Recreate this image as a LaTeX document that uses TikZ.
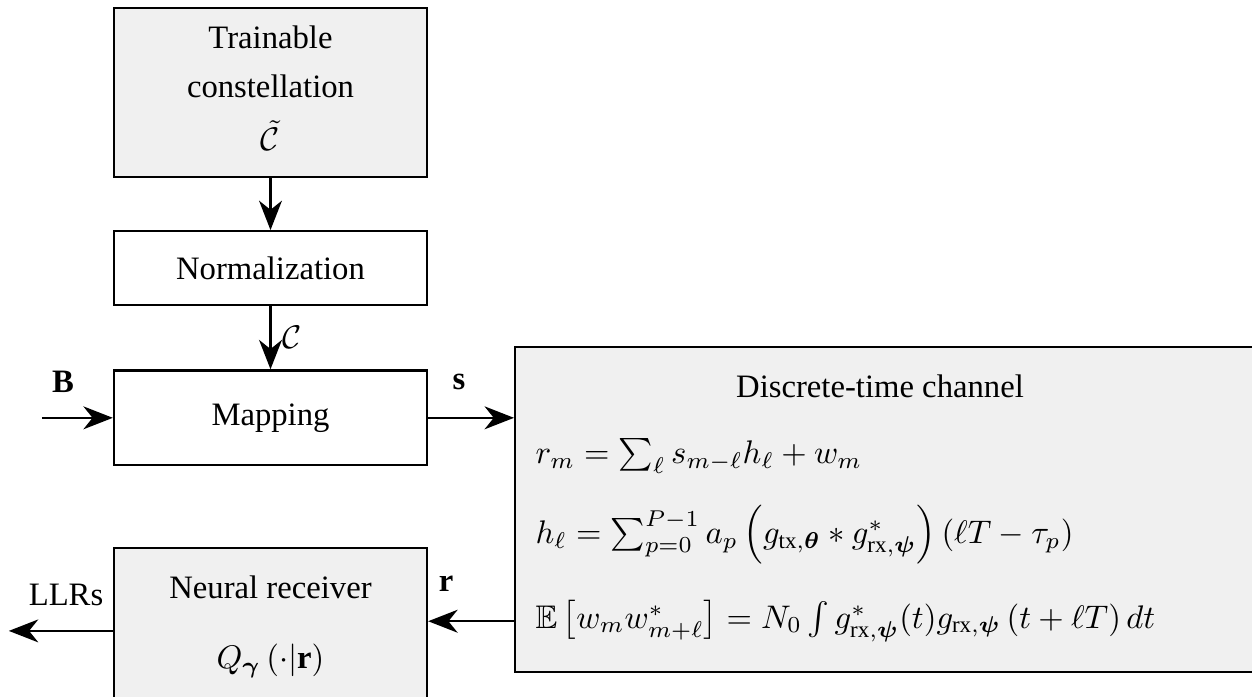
\documentclass[tikz,border=0pt]{standalone}
\usepackage{amsmath}
\usepackage{amssymb}
\usepackage{bm}
\usepackage{fontspec}
\setmainfont{Liberation Serif}
\usepackage{tikz}
\usetikzlibrary{positioning, arrows.meta, calc}
\definecolor{boxgray}{gray}{0.94}
\tikzstyle{block} = [rectangle, minimum width=95.8pt, text centered, draw=black, line width=0.7pt]
\tikzstyle{arrow} = [line width=0.75pt,-{Stealth[length=9pt,width=7pt,inset=2.8pt]}]

\begin{document}
\begin{tikzpicture}[x=0.306pt, y=-0.306pt]
        \useasboundingbox (0,0) rectangle (1252,696);
        \node (constell) [block, minimum height=51.7pt, fill=boxgray, align=center] at (270.5,92.5) {Trainable\\[3pt] constellation\\[4.2pt] $\tilde{\mathcal{C}}$\rule[-2.5pt]{0pt}{2.5pt}};
        \node (norm) [block, below=15.9pt of constell, minimum height=22.6pt] {Normalization};
        \node (mapping) [block, below=19.3pt of norm, minimum height=29pt] {Mapping};
        \node (receiver) [block, below=24.6pt of mapping, minimum height=50.8pt, fill=boxgray, align=center] {Neural receiver\\[9.5pt] $Q_{\bm{\gamma}}\left(\cdot|\mathbf{r}\right)$\rule[-5.5pt]{0pt}{5.5pt}};
        \node (channel) [block, minimum width=245pt, minimum height=99.5pt, fill=boxgray, anchor=north west] at (514,346) {};
        \node (chtitle) at (880,386) {Discrete-time channel};
        \node (eqr) [anchor=west] at (524,456) {$r_m = \sum_\ell s_{m-\ell}h_\ell + w_m$};
        \node (eqh) [anchor=west] at (524,535) {$h_\ell = \sum_{p=0}^{P-1} a_p\left(g_{\text{tx},\bm{\theta}} * g^*_{\text{rx},\bm{\psi}}\right)\left(\ell T - \tau_p\right)$};
        \node (eqw) [anchor=west] at (524,621) {$\mathbb{E}\left[w_m w^*_{m+\ell}\right] = N_0 \int g^*_{\text{rx},\bm{\psi}}(t) g_{\text{rx},\bm{\psi}}\left(t + \ell T\right) dt$};
        \coordinate (bin) at ($(mapping.west)+(-71,0)$);
        \coordinate (rout) at ($(channel.west)+(0,111.5)$);
        \coordinate (llrout) at ($(receiver.west)+(-104,0)$);
        \draw [arrow] (constell) -- (norm);
        \draw [arrow] (norm) -- node[right] {$\mathcal{C}$} (mapping);
        \draw [arrow] (bin) -- node[above=4pt, pos=0.3] {$\mathbf{B}$} (mapping.west);
        \draw [arrow] (mapping.east) -- node[above=5pt, pos=0.36] {$\mathbf{s}$} (mapping.east -| channel.west);
        \draw [arrow] (rout) -- node[above=5.5pt, pos=0.79] {$\mathbf{r}$} (rout -| receiver.east);
        \draw [arrow] (receiver.west) -- node[above=4pt, pos=0.45] {LLRs} (llrout);
    \end{tikzpicture}
\end{document}
